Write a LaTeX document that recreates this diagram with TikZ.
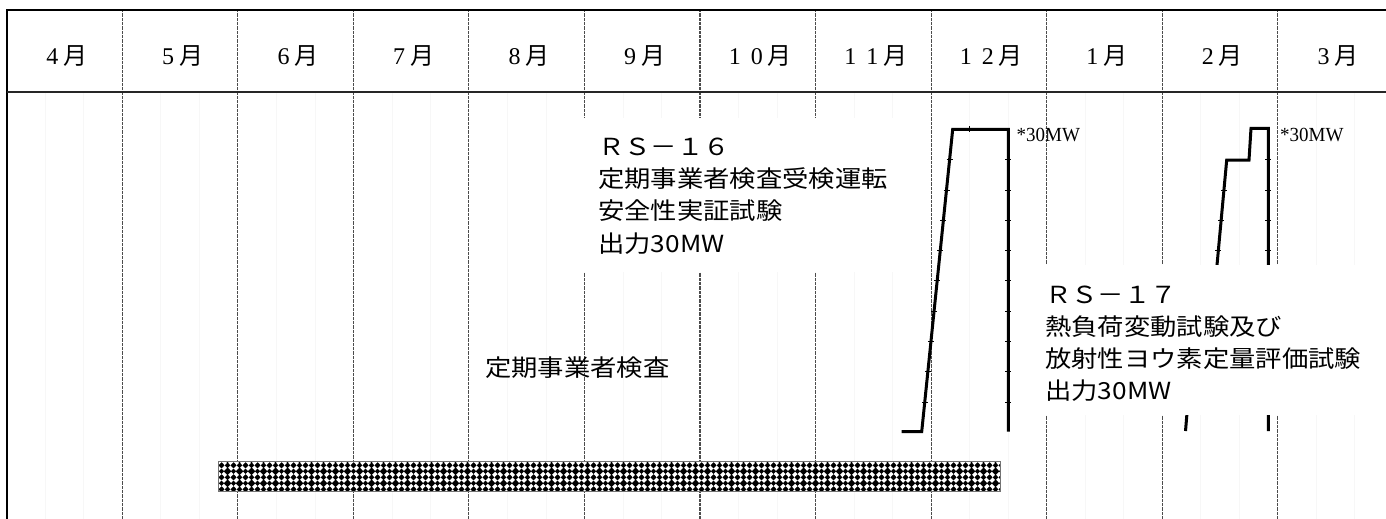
\documentclass[tikz,border=0pt]{standalone}
\usepackage{fontspec}
\usetikzlibrary{patterns}
\newfontfamily\jpfont[FakeStretch=1.12]{Noto Sans CJK JP}
\newfontfamily\jphead{Noto Sans CJK JP}
\newfontfamily\serifnum{Liberation Serif}
\newfontfamily\serifmw[FakeStretch=0.95]{Liberation Serif}
\newcommand\fwd[1]{\makebox[22pt]{#1}}
\pgfdeclarepatternformonly{weave}{\pgfqpoint{0pt}{0pt}}{\pgfqpoint{12pt}{12pt}}{\pgfqpoint{12pt}{12pt}}{%
  \pgfsetlinewidth{2.2pt}%
  \pgfpathmoveto{\pgfqpoint{0.9pt}{2.6pt}}\pgfpathlineto{\pgfqpoint{3.4pt}{5.1pt}}%
  \pgfpathmoveto{\pgfqpoint{2.6pt}{0.9pt}}\pgfpathlineto{\pgfqpoint{5.1pt}{3.4pt}}%
  \pgfpathmoveto{\pgfqpoint{6.9pt}{8.6pt}}\pgfpathlineto{\pgfqpoint{9.4pt}{11.1pt}}%
  \pgfpathmoveto{\pgfqpoint{8.6pt}{6.9pt}}\pgfpathlineto{\pgfqpoint{11.1pt}{9.4pt}}%
  \pgfpathmoveto{\pgfqpoint{6.9pt}{3.4pt}}\pgfpathlineto{\pgfqpoint{9.4pt}{0.9pt}}%
  \pgfpathmoveto{\pgfqpoint{8.6pt}{5.1pt}}\pgfpathlineto{\pgfqpoint{11.1pt}{2.6pt}}%
  \pgfpathmoveto{\pgfqpoint{0.9pt}{9.4pt}}\pgfpathlineto{\pgfqpoint{3.4pt}{6.9pt}}%
  \pgfpathmoveto{\pgfqpoint{2.6pt}{11.1pt}}\pgfpathlineto{\pgfqpoint{5.1pt}{8.6pt}}%
  \pgfusepath{stroke}}
\begin{document}
\begin{tikzpicture}[x=1pt,y=-1pt,
  faint/.style={black!3, line width=0.6pt},
  divider/.style={black!70, line width=1.1pt, dash pattern=on 0.9pt off 0.4pt},
  frame/.style={black, line width=2pt},
  hline/.style={black!85, line width=1.8pt},
  curve/.style={black, line width=3pt, line join=miter},
  tickmark/.style={black, line width=0.7pt},
  head/.style={inner sep=0pt, anchor=base, font=\fontsize{24}{24}\selectfont},
  jptext/.style={inner sep=0pt, anchor=base west, font=\jpfont\fontsize{23.5}{23.5}\selectfont},
  mw/.style={inner sep=0pt, anchor=base west, font=\serifmw\fontsize{20}{20}\selectfont}]
\useasboundingbox (0,0) rectangle (1386,519);
% faint ten-day lines
\foreach \k in {0,...,11} {
  \draw[faint] ({6.7+115.55*\k+38.5},93) -- ++(0,426);
  \draw[faint] ({6.7+115.55*\k+77},93) -- ++(0,426);
}
% month dividers
\foreach \k in {1,...,11}
  \draw[divider] ({6.7+115.55*\k},10) -- ({6.7+115.55*\k},519);
% frame
\draw[frame] (1386,10) -- (6.7,10) -- (6.7,519);
\draw[hline] (6.7,92) -- (1386,92);
% header labels
\node[head] (m4)  at ({6.7+115.55*0.5},65) {{\serifnum\fwd{4}}{\jphead 月}};
\node[head] (m5)  at ({6.7+115.55*1.5},65) {{\serifnum\fwd{5}}{\jphead 月}};
\node[head] (m6)  at ({6.7+115.55*2.5},65) {{\serifnum\fwd{6}}{\jphead 月}};
\node[head] (m7)  at ({6.7+115.55*3.5},65) {{\serifnum\fwd{7}}{\jphead 月}};
\node[head] (m8)  at ({6.7+115.55*4.5},65) {{\serifnum\fwd{8}}{\jphead 月}};
\node[head] (m9)  at ({6.7+115.55*5.5},65) {{\serifnum\fwd{9}}{\jphead 月}};
\node[head] (m10) at ({6.7+115.55*6.5},65) {{\serifnum\fwd{1}\fwd{0}}{\jphead 月}};
\node[head] (m11) at ({6.7+115.55*7.5},65) {{\serifnum\fwd{1}\fwd{1}}{\jphead 月}};
\node[head] (m12) at ({6.7+115.55*8.5},65) {{\serifnum\fwd{1}\fwd{2}}{\jphead 月}};
\node[head] (m1)  at ({6.7+115.55*9.5},65) {{\serifnum\fwd{1}}{\jphead 月}};
\node[head] (m2)  at ({6.7+115.55*10.5},65) {{\serifnum\fwd{2}}{\jphead 月}};
\node[head] (m3)  at ({6.7+115.55*11.5},65) {{\serifnum\fwd{3}}{\jphead 月}};
% power curve RS-16
\coordinate (a0) at (901.7,431.7);
\coordinate (a1) at (921.7,431.7);
\coordinate (a2) at (952.7,129.3);
\coordinate (a3) at (1008.3,129.3);
\coordinate (a4) at (1008.3,431.7);
\draw[curve] (a0) -- (a1) -- (a2) -- (a3) -- (a4);
% power curve RS-17
\coordinate (b0) at (1185.5,431);
\coordinate (b1) at (1187,413);
\coordinate (b2) at (1217,265);
\coordinate (b3) at (1226.7,160);
\coordinate (b4) at (1249,160);
\coordinate (b5) at (1251,128.3);
\coordinate (b6) at (1268.3,128.3);
\coordinate (b7) at (1268.3,431);
\draw[curve] (b0) -- (b1) -- (b2) -- (b3) -- (b4) -- (b5) -- (b6) -- (b7);
% small grid marks on the curves
\foreach \yy in {159.6,189.9,220.2,250.5,280.8,311.1,341.4,371.7,402} {
  \draw[tickmark] (1005.3,\yy) -- (1011.3,\yy);
  \pgfmathsetmacro\xx{921.7+31*(431.7-\yy)/302.4}
  \draw[tickmark] (\xx-3,\yy) -- (\xx+3,\yy);
  \draw[tickmark] (1265.3,\yy) -- (1271.3,\yy);
}
\foreach \yy in {189.9,220.2,250.5} {
  \pgfmathsetmacro\xx{1217+9.7*(265-\yy)/105}
  \draw[tickmark] (\xx-3,\yy) -- (\xx+3,\yy);
}
\draw[tickmark] (969.2,126.3) -- (969.2,132.3);
% labels
\node[mw] (p1) at (1016.5,141) {*30MW};
\node[mw] (p2) at (1280,141) {*30MW};
% white backgrounds of the text blocks
\fill[white] (575,118) rectangle (905,272);
\fill[white] (1035,265) rectangle (1370,415);
% RS-16 text
\node[jptext] (r16a) at (598,155) {ＲＳ－１６};
\node[jptext] (r16b) at (598,187) {定期事業者検査受検運転};
\node[jptext] (r16c) at (598,219.5) {安全性実証試験};
\node[jptext] (r16d) at (598,252) {出力30MW};
% RS-17 text
\node[jptext] (r17a) at (1045,303) {ＲＳ－１７};
\node[jptext] (r17b) at (1045,335) {熱負荷変動試験及び};
\node[jptext] (r17c) at (1045,367) {放射性ヨウ素定量評価試験};
\node[jptext] (r17d) at (1045,399) {出力30MW};
% inspection label
\node[jptext] (insp) at (485,376) {定期事業者検査};
% inspection period bar
\fill[black] (218.3,461.7) rectangle (1000,491.7);
\fill[pattern=weave, pattern color=white] (218.3,461.7) rectangle (1000,491.7);
\draw[black!55, line width=0.8pt] (218.3,461.7) rectangle (1000,491.7);
\end{tikzpicture}
\end{document}
